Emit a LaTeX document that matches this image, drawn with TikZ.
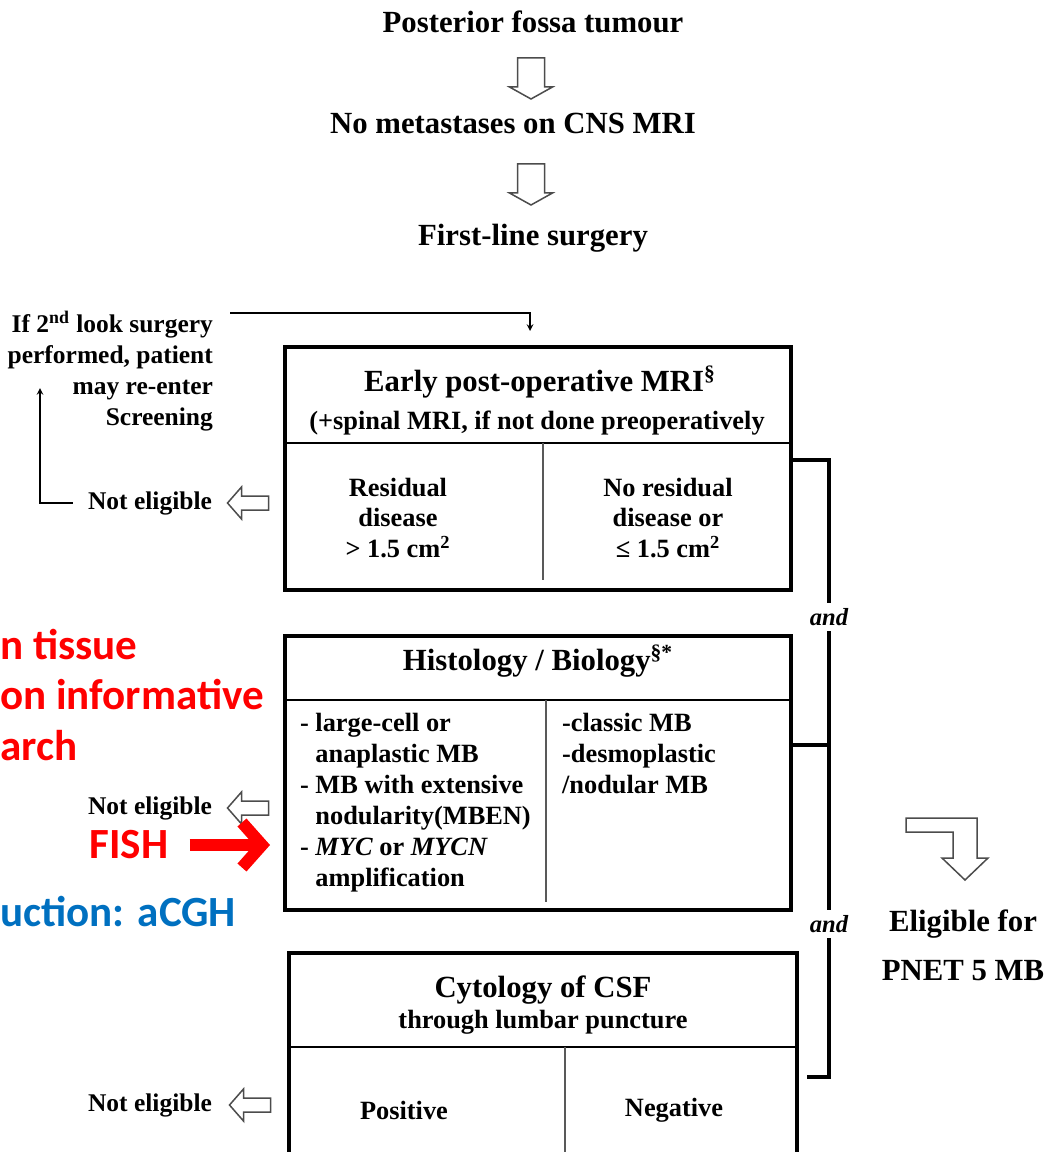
\documentclass[tikz,border=0pt]{standalone}
\usepackage{fontspec}
\setmainfont{Liberation Serif}
\newfontfamily\calibri{Carlito}
\usepackage{tikz}
\usepackage{xcolor}
\usetikzlibrary{shapes,arrows,arrows.meta,positioning,calc}
\definecolor{fishred}{RGB}{255,0,0}
\definecolor{cghblue}{RGB}{0,112,192}

\tikzset{
  hdown/.pic={\draw[hollow] (-13.5,-20) -- (13.5,-20) -- (13.5,9) -- (21.5,9) -- (0,21) -- (-21.5,9) -- (-13.5,9) -- cycle;},
  hleft/.pic={\draw[hollow] (20,-7) -- (-7,-7) -- (-7,-16) -- (-21,0) -- (-7,16) -- (-7,7) -- (20,7) -- cycle;}
}

\begin{document}
\begin{tikzpicture}[
    x=0.2mm, y=-0.2mm,
    every node/.style={align=center, inner sep=1pt},
    toptext/.style={font=\fontsize{17.5}{20}\selectfont\bfseries},
    boxhead/.style={font=\fontsize{17.5}{20}\selectfont\bfseries},
    subhead/.style={font=\fontsize{15}{17}\selectfont\bfseries},
    celltxt/.style={font=\fontsize{15}{17.6}\selectfont\bfseries},
    sidenote/.style={font=\fontsize{14.5}{17.6}\selectfont\bfseries},
    andtxt/.style={font=\fontsize{14}{16}\selectfont\bfseries\itshape, inner sep=3pt},
    redtxt/.style={font=\calibri\fontsize{24.5}{28}\selectfont\bfseries, text=fishred, inner sep=0pt, anchor=west},
    tablebox/.style={draw, rectangle, line width=0.8mm},
    divider/.style={line width=0.3mm},
    cellsplit/.style={line width=0.3mm, gray!70!black},
    hollow/.style={draw=gray!60!black, fill=white, line width=0.3mm},
    andline/.style={line width=0.8mm},
    arrow/.style={line width=0.25mm,->,>=stealth},
    fisharrow/.style={line width=2.4mm, fishred, -{Straight Barb[length=4mm,width=9mm]}}
]
\useasboundingbox (0,0) rectangle (1049,1152);

% Top of the flow
\node[toptext] (tumour) at (533,22) {Posterior fossa tumour};
\node[toptext] (meta) at (513,123) {No metastases on CNS MRI};
\node[toptext] (surgery) at (533,238) {First-line surgery};
\pic at (531,78) {hdown};
\pic at (531,184) {hdown};

% Early post-operative MRI
\node[tablebox, minimum width=101.2mm, minimum height=48.6mm] (mri) at (538,468.5) {};
\node[boxhead] (mrih) at (540,382) {Early post-operative MRI\textsuperscript{§}};
\node[subhead] (mris) at (537,423) {(+spinal MRI, if not done preoperatively};
\node[celltxt] (resid) at (398,518) {Residual\\disease\\> 1.5 cm\textsuperscript{2}};
\node[celltxt] (nores) at (668,518) {No residual\\disease or\\≤ 1.5 cm\textsuperscript{2}};
\draw[divider] (283,443) -- (791,443);
\draw[cellsplit] (543,443) -- (543,580);

% Histology / Biology
\node[tablebox, minimum width=101.2mm, minimum height=54.8mm] (hist) at (538,773) {};
\node[boxhead] (histh) at (538,661) {Histology / Biology\textsuperscript{§*}};
\node[celltxt, align=left, anchor=north west] (histl) at (298,711) {- large-cell or\\\phantom{- }anaplastic MB\\- MB with extensive\\\phantom{- }nodularity(MBEN)\\- \textit{MYC} or \textit{MYCN}\\\phantom{- }amplification};
\node[celltxt, align=left, anchor=north west] (histr) at (560,711) {-classic MB\\-desmoplastic\\/nodular MB};
\draw[divider] (283,700) -- (791,700);
\draw[cellsplit] (546,700) -- (546,902);

% Cytology of CSF
\node[tablebox, minimum width=101.6mm, minimum height=41.4mm] (cyto) at (543,1056.5) {};
\node[boxhead] (cytoh) at (543,990) {Cytology of CSF};
\node[subhead] (cytos) at (543,1022) {through lumbar puncture};
\node[celltxt] (pos) at (404,1110) {Positive};
\node[celltxt] (neg) at (674,1110) {Negative};
\draw[divider] (289,1047) -- (797,1047);
\draw[cellsplit] (565,1047) -- (565,1160);

% Not eligible side
\node[sidenote, anchor=east] (nel1) at (214,503) {Not eligible};
\node[sidenote, anchor=east] (nel2) at (214,808) {Not eligible};
\node[sidenote, anchor=east] (nel3) at (214,1105) {Not eligible};
\pic at ($(nel1.east)!0.5!(mri.west |- nel1)$) {hleft};
\pic at ($(nel2.east)!0.5!(hist.west |- nel2)$) {hleft};
\pic at ($(nel3.east)!0.5!(cyto.west |- nel3)$) {hleft};
\node[sidenote, align=right, anchor=north east] (reenter) at (215,309) {If 2\textsuperscript{nd} look surgery\\performed, patient\\may re-enter\\Screening};
\coordinate (up) at (40,388);
\draw[arrow] ([xshift=-2.6mm]nel1.west) -| (up);
\draw[arrow] ([xshift=3mm,yshift=-0.8mm]reenter.north east) -| ([xshift=-1.6mm,yshift=2.8mm]mri.north);

% Red and blue notes
\node[redtxt] (tissue) at (0,645) {n tissue};
\node[redtxt] (inform) at (0,695) {on informative};
\node[redtxt] (search) at (0,746) {arch};
\node[redtxt, anchor=center] (fish) at (129,845) {FISH};
\node[redtxt, text=cghblue] (acgh) at (0,912) {uction: aCGH};
\draw[fisharrow, shorten <=4.2mm, shorten >=2.6mm] (fish.east) -- (hist.west |- fish);

% And bracket
\coordinate (b1) at (829,460);
\coordinate (b2) at (829,745);
\coordinate (b3) at (829,1077);
\node[andtxt] (and1) at (829,617) {and};
\node[andtxt] (and2) at (829,924) {and};
\draw[andline] (mri.east |- b1) -- (b1) -- (and1);
\draw[andline] (and1) -- (b2) -- (and2);
\draw[andline] (hist.east |- b2) -- (b2);
\draw[andline] (and2) -- (b3) -- ([xshift=1.6mm]cyto.east |- b3);

% Eligible
\draw[hollow] (906,818) -- (977,818) -- (977,858) -- (988,858) -- (965,880) -- (942,858) -- (953,858) -- (953,832) -- (906,832) -- cycle;
\node[toptext, font=\fontsize{17.5}{28}\selectfont\bfseries] (elig) at (963,945) {Eligible for\\PNET 5 MB};

\end{tikzpicture}
\end{document}
